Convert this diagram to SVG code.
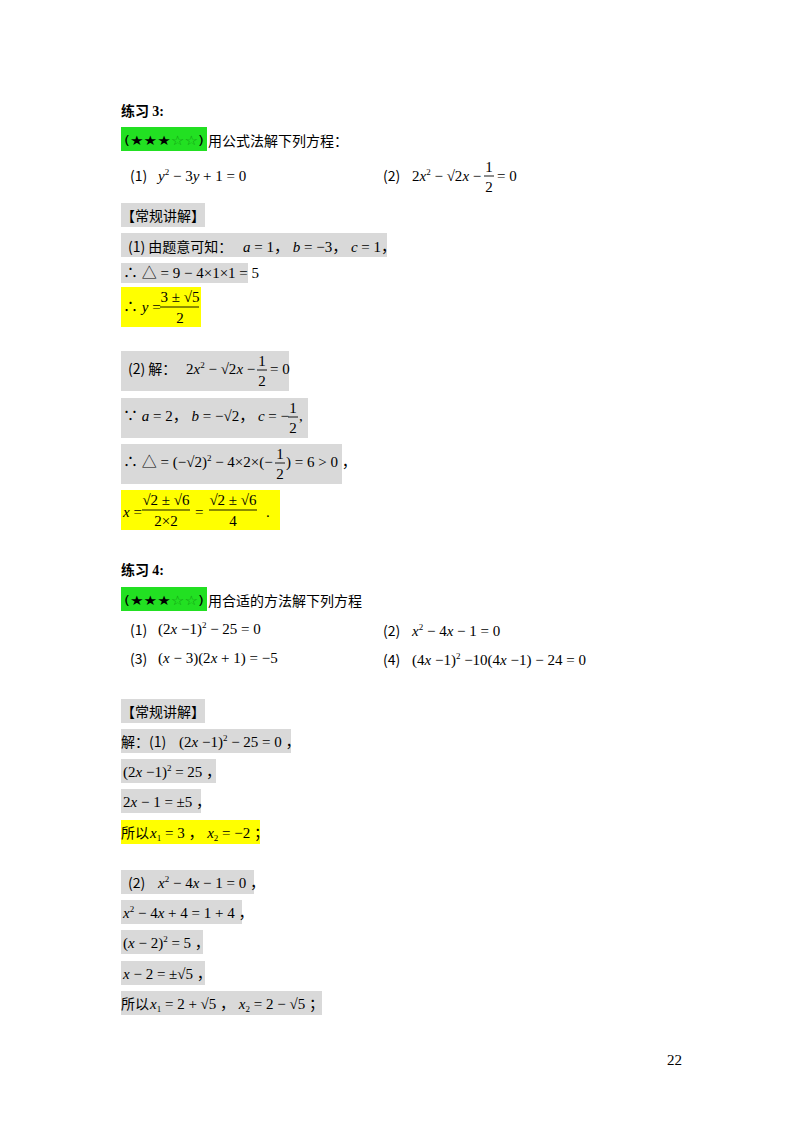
<svg xmlns="http://www.w3.org/2000/svg" width="800" height="1132" viewBox="0 0 800 1132">
<style>
text{font-family:"Liberation Serif","Noto Sans CJK SC",serif;font-size:15px;fill:#000}
.c{font-family:"Noto Sans CJK SC","Liberation Sans",sans-serif;font-size:14px}
.b{font-family:"Noto Sans CJK SC",sans-serif;font-weight:bold;font-size:14px}
.st{font-family:"DejaVu Sans",sans-serif;font-size:13px}
.i{font-style:italic}
.s{font-size:9px}
.g{fill:#d9d9d9}.y{fill:#ffff00}.gr{fill:#22e022}
line{stroke:#000;stroke-width:0.9}
</style>
<rect width="800" height="1132" fill="#fff"/>
<g id="ex3">
<text x="121" y="116" class="b">练习 <tspan font-family="Liberation Serif">3:</tspan></text>
<rect class="gr" x="121" y="127" width="86" height="24"/>
<text x="124" y="145" class="st" textLength="80" lengthAdjust="spacingAndGlyphs">(★★★<tspan fill="#119911">☆☆</tspan>)</text>
<text x="208" y="146" class="c">用公式法解下列方程：</text>
<text x="130" y="181" class="c">(1)</text>
<text x="158" y="181"><tspan class="i">y</tspan><tspan class="s" dy="-6">2</tspan><tspan dy="6"> − 3</tspan><tspan class="i">y</tspan> + 1 = 0</text>
<text x="383" y="181" class="c">(2)</text>
<text x="412" y="181">2<tspan class="i">x</tspan><tspan class="s" dy="-6">2</tspan><tspan dy="6"> − √2</tspan><tspan class="i">x</tspan> −</text>
<text x="489" y="172" text-anchor="middle">1</text><line x1="484" y1="176" x2="494" y2="176"/><text x="489" y="192" text-anchor="middle">2</text>
<text x="497" y="181">= 0</text>
</g>
<g id="sol3">
<rect class="g" x="121" y="203" width="84" height="24"/>
<text x="121" y="221" class="c">【常规讲解】</text>
<rect class="g" x="121" y="233" width="266" height="24"/>
<text x="128" y="252" class="c">(1) 由题意可知：</text>
<text x="243" y="252"><tspan class="i">a</tspan> = 1， <tspan class="i">b</tspan> = −3， <tspan class="i">c</tspan> = 1，</text>
<rect class="g" x="121" y="263" width="127" height="20"/>
<text x="123" y="278">∴ △ = 9 − 4×1×1 = 5</text>
<rect class="y" x="121" y="287" width="80" height="40"/>
<text x="123" y="312">∴ <tspan class="i">y</tspan> =</text>
<text x="180" y="302" text-anchor="middle">3 ± √5</text>
<line x1="160" y1="307" x2="199" y2="307"/>
<text x="180" y="323" text-anchor="middle">2</text>
<rect class="g" x="121" y="351" width="168" height="40"/>
<text x="128" y="374" class="c">(2) 解：</text>
<text x="186" y="374">2<tspan class="i">x</tspan><tspan class="s" dy="-6">2</tspan><tspan dy="6"> − √2</tspan><tspan class="i">x</tspan> −</text>
<text x="262" y="366" text-anchor="middle">1</text><line x1="257" y1="370" x2="267" y2="370"/><text x="262" y="386" text-anchor="middle">2</text>
<text x="270" y="374">= 0</text>
<rect class="g" x="121" y="398" width="187" height="40"/>
<text x="123" y="421">∵ <tspan class="i">a</tspan> = 2， <tspan class="i">b</tspan> = −√2， <tspan class="i">c</tspan> = −</text>
<text x="293" y="413" text-anchor="middle">1</text><line x1="288" y1="417" x2="298" y2="417"/><text x="293" y="433" text-anchor="middle">2</text>
<text x="299" y="421">,</text>
<rect class="g" x="121" y="444" width="221" height="40"/>
<text x="123" y="467">∴ △ = (−√2)<tspan class="s" dy="-6">2</tspan><tspan dy="6"> − 4×2×(−</tspan></text>
<text x="280" y="459" text-anchor="middle">1</text><line x1="275" y1="463" x2="285" y2="463"/><text x="280" y="479" text-anchor="middle">2</text>
<text x="286" y="467">) = 6 &gt; 0 ，</text>
<rect class="y" x="121" y="490" width="159" height="40"/>
<text x="123" y="517"><tspan class="i">x</tspan> =</text>
<text x="166" y="505" text-anchor="middle">√2 ± √6</text>
<line x1="142" y1="510" x2="190" y2="510"/>
<text x="166" y="526" text-anchor="middle">2×2</text>
<text x="195" y="517">=</text>
<text x="233" y="505" text-anchor="middle">√2 ± √6</text>
<line x1="209" y1="510" x2="257" y2="510"/>
<text x="233" y="526" text-anchor="middle">4</text>
<text x="266" y="517">.</text>
</g>
<g id="ex4">
<text x="121" y="575" class="b">练习 <tspan font-family="Liberation Serif">4:</tspan></text>
<rect class="gr" x="121" y="587" width="86" height="24"/>
<text x="124" y="605" class="st" textLength="80" lengthAdjust="spacingAndGlyphs">(★★★<tspan fill="#119911">☆☆</tspan>)</text>
<text x="208" y="606" class="c">用合适的方法解下列方程</text>
<text x="130" y="635" class="c">(1)</text>
<text x="158" y="634">(2<tspan class="i">x</tspan> −1)<tspan class="s" dy="-6">2</tspan><tspan dy="6"> − 25 = 0</tspan></text>
<text x="383" y="636" class="c">(2)</text>
<text x="412" y="636"><tspan class="i">x</tspan><tspan class="s" dy="-6">2</tspan><tspan dy="6"> − 4</tspan><tspan class="i">x</tspan> − 1 = 0</text>
<text x="130" y="664" class="c">(3)</text>
<text x="158" y="663">(<tspan class="i">x</tspan> − 3)(2<tspan class="i">x</tspan> + 1) = −5</text>
<text x="383" y="665" class="c">(4)</text>
<text x="412" y="665">(4<tspan class="i">x</tspan> −1)<tspan class="s" dy="-6">2</tspan><tspan dy="6"> −10(4</tspan><tspan class="i">x</tspan> −1) − 24 = 0</text>
</g>
<g id="sol4">
<rect class="g" x="121" y="699" width="84" height="24"/>
<text x="121" y="717" class="c">【常规讲解】</text>
<rect class="g" x="121" y="729" width="170" height="24"/>
<text x="121" y="747" class="c">解：(1)</text>
<text x="179" y="747">(2<tspan class="i">x</tspan> −1)<tspan class="s" dy="-6">2</tspan><tspan dy="6"> − 25 = 0 ，</tspan></text>
<rect class="g" x="121" y="759" width="95" height="24"/>
<text x="123" y="777">(2<tspan class="i">x</tspan> −1)<tspan class="s" dy="-6">2</tspan><tspan dy="6"> = 25 ，</tspan></text>
<rect class="g" x="121" y="789" width="80" height="24"/>
<text x="123" y="807">2<tspan class="i">x</tspan> − 1 = ±5 ，</text>
<rect class="y" x="121" y="820" width="139" height="24"/>
<text x="121" y="838" class="c">所以</text>
<text x="150" y="838"><tspan class="i">x</tspan><tspan class="s" dy="3">1</tspan><tspan dy="-3"> = 3 ，  </tspan><tspan class="i">x</tspan><tspan class="s" dy="3">2</tspan><tspan dy="-3"> = −2 ；</tspan></text>
<rect class="g" x="121" y="870" width="133" height="24"/>
<text x="128" y="888" class="c">(2)</text>
<text x="158" y="888"><tspan class="i">x</tspan><tspan class="s" dy="-6">2</tspan><tspan dy="6"> − 4</tspan><tspan class="i">x</tspan> − 1 = 0 ，</text>
<rect class="g" x="121" y="900" width="121" height="24"/>
<text x="123" y="918"><tspan class="i">x</tspan><tspan class="s" dy="-6">2</tspan><tspan dy="6"> − 4</tspan><tspan class="i">x</tspan> + 4 = 1 + 4 ，</text>
<rect class="g" x="121" y="930" width="82" height="24"/>
<text x="123" y="948">(<tspan class="i">x</tspan> − 2)<tspan class="s" dy="-6">2</tspan><tspan dy="6"> = 5 ，</tspan></text>
<rect class="g" x="121" y="961" width="84" height="24"/>
<text x="123" y="979"><tspan class="i">x</tspan> − 2 = ±√5 ，</text>
<rect class="g" x="121" y="991" width="201" height="24"/>
<text x="121" y="1009" class="c">所以</text>
<text x="150" y="1009"><tspan class="i">x</tspan><tspan class="s" dy="3">1</tspan><tspan dy="-3"> = 2 + √5 ，  </tspan><tspan class="i">x</tspan><tspan class="s" dy="3">2</tspan><tspan dy="-3"> = 2 − √5 ；</tspan></text>
</g>
<text x="667" y="1065" font-size="14">22</text>
</svg>
